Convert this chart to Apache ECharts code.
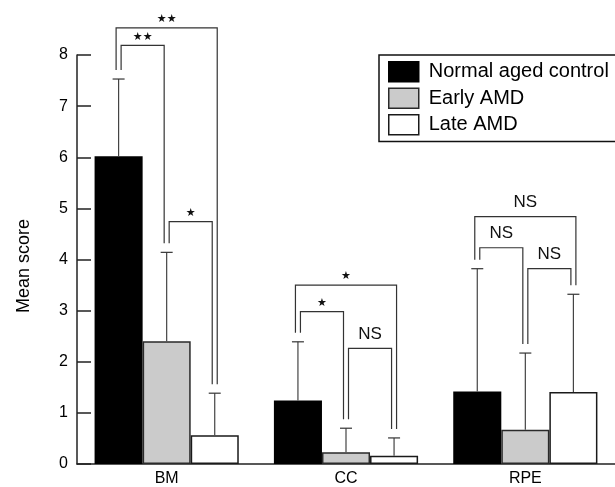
<!DOCTYPE html>
<html>
<head>
<meta charset="utf-8">
<script src="https://cdn.jsdelivr.net/npm/echarts@6/dist/echarts.min.js"></script>
<style>
html,body{margin:0;padding:0;background:#fff;}
#chart{width:615px;height:487px;}
</style>
</head>
<body>
<div id="chart"></div>
<script>
// ---- data ----
const categories = ['BM', 'CC', 'RPE'];
const seriesNames = ['Normal aged control', 'Early AMD', 'Late AMD'];
const normalMean = [6.02, 1.24, 1.42];
const normalErrTop = [7.53, 2.39, 3.82];
const earlyMean = [2.40, 0.23, 0.67];
const earlyErrTop = [4.14, 0.70, 2.17];
const lateMean = [0.56, 0.16, 1.41];
const lateErrTop = [1.385, 0.51, 3.32];
const yTickValues = [0, 1, 2, 3, 4, 5, 6, 7, 8];

// significance brackets (category, from bar, to bar, top value, label)
const bracketCategory = [0, 0, 0, 1, 1, 1, 2, 2, 2];
const bracketFrom = [0, 0, 1, 0, 0, 1, 0, 0, 1];
const bracketTo = [2, 1, 2, 2, 1, 2, 2, 1, 2];
const bracketTop = [8.53, 8.19, 4.74, 3.50, 2.98, 2.26, 4.84, 4.23, 3.82];
const bracketLabel = ['★★', '★★', '★', '★', '★', 'NS', 'NS', 'NS', 'NS'];

// ---- build ----
const means = [normalMean, earlyMean, lateMean];
const errTops = [normalErrTop, earlyErrTop, lateErrTop];
const GAP = 0.196;
const fills = ['#000000', '#cbcbcb', '#ffffff'];
const borders = ['#000000', '#2a2a2a', '#1a1a1a'];

// leg offsets: nested brackets sit side by side over the error bar
const legOffset = bracketCategory.map(() => [0, 0]);
categories.forEach((c, ci) => {
  for (let k = 0; k < 3; k++) {
    const att = [];
    bracketCategory.forEach((bc, bi) => {
      if (bc !== ci) return;
      const span = bracketTo[bi] - bracketFrom[bi];
      if (bracketTo[bi] === k) att.push({bi, side: 1, span, order: 0});
      if (bracketFrom[bi] === k) att.push({bi, side: 0, span, order: 1});
    });
    att.sort((a, b) => a.order - b.order || (a.order === 0 ? a.span - b.span : b.span - a.span));
    att.forEach((a, i) => {
      legOffset[a.bi][a.side] = (i - (att.length - 1) / 2) * 5;
    });
  }
});

function barCenter(api, cat, k) {
  const cx = api.coord([cat, 0])[0];
  const band = api.size([1, 0])[0];
  const bw = band * (1 - GAP) / 3;
  return cx + (k - 1) * bw;
}

const errData = [];
for (let k = 0; k < 3; k++) for (let c = 0; c < 3; c++) errData.push([c, k, means[k][c], errTops[k][c]]);

const bracketData = bracketCategory.map((c, i) => [c, bracketFrom[i], bracketTo[i], bracketTop[i], i]);

const series = seriesNames.map((n, k) => ({
  name: n,
  type: 'bar',
  data: means[k],
  barGap: '0%',
  barCategoryGap: (GAP * 100) + '%',
  itemStyle: {color: fills[k], borderColor: borders[k], borderWidth: k === 0 ? 0 : 1.5},
  emphasis: {disabled: true},
  z: 2
}));

series.push({
  type: 'custom',
  name: 'err',
  data: errData,
  encode: {x: 0, y: 3},
  clip: false,
  z: 3,
  silent: true,
  renderItem: function (params, api) {
    const c = api.value(0), k = api.value(1);
    const x = barCenter(api, c, k);
    const y0 = api.coord([c, api.value(2)])[1];
    const y1 = api.coord([c, api.value(3)])[1];
    return {
      type: 'group',
      children: [
        {type: 'line', shape: {x1: x, y1: y0, x2: x, y2: y1}, style: {stroke: '#444', lineWidth: 1.2}},
        {type: 'line', shape: {x1: x - 6, y1: y1, x2: x + 6, y2: y1}, style: {stroke: '#333', lineWidth: 1.2}}
      ]
    };
  }
});

series.push({
  type: 'custom',
  name: 'brackets',
  data: bracketData,
  encode: {x: 0, y: 3},
  clip: false,
  z: 4,
  silent: true,
  renderItem: function (params, api) {
    const c = api.value(0), f = api.value(1), t = api.value(2), top = api.value(3), i = api.value(4);
    const xl = barCenter(api, c, f) + legOffset[i][0];
    const xr = barCenter(api, c, t) + legOffset[i][1];
    const yt = api.coord([c, top])[1];
    const yl = api.coord([c, errTops[f][c]])[1] - 9;
    const yr = api.coord([c, errTops[t][c]])[1] - 9;
    const lab = bracketLabel[i];
    const isNS = lab === 'NS';
    return {
      type: 'group',
      children: [
        {type: 'polyline', shape: {points: [[xl, yl], [xl, yt], [xr, yt], [xr, yr]]},
          style: {stroke: '#333', lineWidth: 1.2, fill: null}},
        {type: 'text', style: {
          text: lab, x: (xl + xr) / 2, y: yt - (isNS ? 6 : 3),
          align: 'center', verticalAlign: 'bottom',
          fontSize: isNS ? 17 : 11,
          fontFamily: isNS ? 'Liberation Sans' : 'DejaVu Sans',
          fill: '#111'
        }}
      ]
    };
  }
});

const chart = echarts.init(document.getElementById('chart'), null, {renderer: 'canvas'});
chart.setOption({
  animation: false,
  backgroundColor: '#fff',
  textStyle: {fontFamily: 'Liberation Sans'},
  grid: {left: 77, top: 55, width: 543, height: 410},
  legend: {
    data: seriesNames,
    orient: 'vertical',
    left: 379, top: 55,
    itemWidth: 30, itemHeight: 20, itemGap: 5,
    icon: 'rect',
    borderColor: '#111', borderWidth: 1.5,
    padding: [6, 20, 6, 9],
    textStyle: {fontSize: 20, color: '#000', fontFamily: 'Liberation Sans', padding: [0, 0, 0, 5]},
    itemStyle: {borderWidth: 1.5},
    selectedMode: false
  },
  xAxis: {
    type: 'category',
    data: categories,
    axisLine: {lineStyle: {color: '#222', width: 1.5}},
    axisTick: {inside: true, length: 15, lineStyle: {color: '#222', width: 1.5}},
    axisLabel: {fontSize: 16, color: '#000', margin: 7}
  },
  yAxis: {
    type: 'value',
    min: 0, max: 8, interval: 1,
    name: 'Mean score',
    nameLocation: 'middle',
    nameGap: 44,
    nameTextStyle: {fontSize: 18, color: '#000', padding: [0, 13, 0, 0]},
    axisLine: {show: true, lineStyle: {color: '#222', width: 1.5}},
    axisTick: {show: true, inside: true, length: 14, lineStyle: {color: '#222', width: 1.5}},
    axisLabel: {fontSize: 16, color: '#000', margin: 9,
      formatter: v => yTickValues.indexOf(v) >= 0 ? String(v) : ''},
    splitLine: {show: false}
  },
  series: series
});
</script>
</body>
</html>
